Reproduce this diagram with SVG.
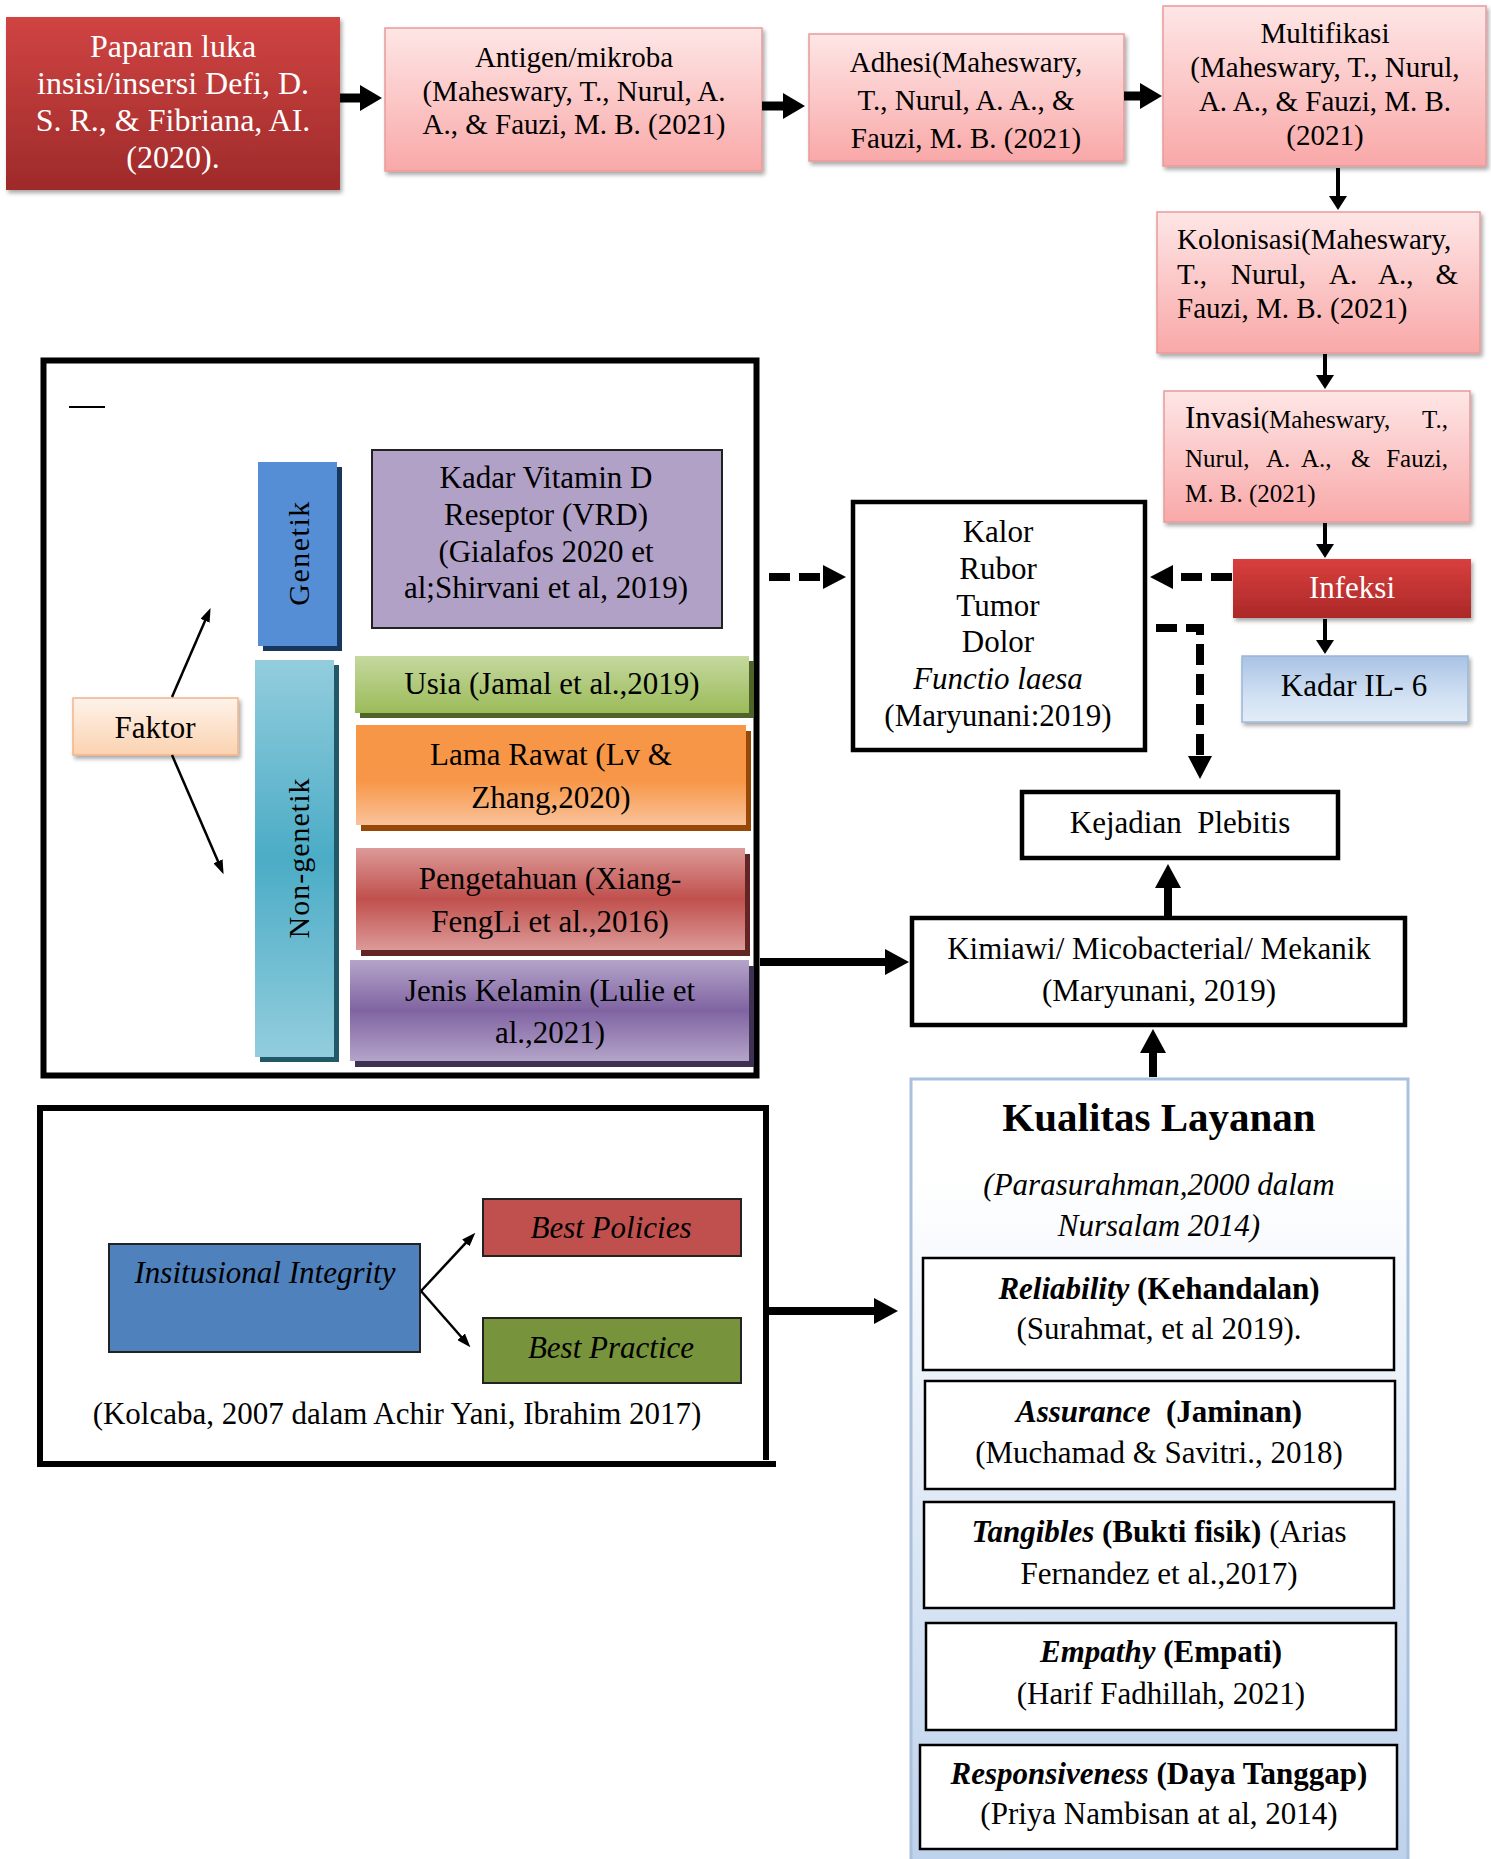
<svg xmlns="http://www.w3.org/2000/svg" width="1491" height="1859" viewBox="0 0 1491 1859">
<style>
.t{font-family:"Liberation Serif","Times New Roman",serif;fill:#000;}
.c{text-anchor:middle;}
.e{text-anchor:end;}
.w{fill:#fff;}
.i{font-style:italic;}
.b{font-weight:bold;}
.pink{fill:url(#gPink);stroke:#e79b9b;stroke-width:1.5;filter:url(#sh);}
.frame{fill:none;stroke:#000;stroke-width:6;}
.bx{fill:#fff;stroke:#000;stroke-width:4.5;}
.sub{fill:#fff;stroke:#000;stroke-width:2.5;}
</style>
<defs>
<linearGradient id="gRed" x1="0" y1="0" x2="0" y2="1"><stop offset="0" stop-color="#d04442"/><stop offset="1" stop-color="#9e2a2a"/></linearGradient>
<linearGradient id="gPink" x1="0" y1="0" x2="0" y2="1"><stop offset="0" stop-color="#fee6e6"/><stop offset="1" stop-color="#f9a8a8"/></linearGradient>
<linearGradient id="gInf" x1="0" y1="0" x2="0" y2="1"><stop offset="0" stop-color="#d83f3d"/><stop offset="1" stop-color="#ac2828"/></linearGradient>
<linearGradient id="gIL" x1="0" y1="0" x2="0" y2="1"><stop offset="0" stop-color="#a9c3e4"/><stop offset="0.6" stop-color="#d0e0f3"/><stop offset="1" stop-color="#e3edf8"/></linearGradient>
<linearGradient id="gFak" x1="0" y1="0" x2="0" y2="1"><stop offset="0" stop-color="#fef3ea"/><stop offset="1" stop-color="#fbd2b0"/></linearGradient>
<linearGradient id="gNon" x1="0" y1="0" x2="0" y2="1"><stop offset="0" stop-color="#93cddd"/><stop offset="0.5" stop-color="#4bacc6"/><stop offset="1" stop-color="#93cddd"/></linearGradient>
<linearGradient id="gUsia" x1="0" y1="0" x2="0" y2="1"><stop offset="0" stop-color="#c5d89f"/><stop offset="1" stop-color="#9bbb59"/></linearGradient>
<linearGradient id="gLama" x1="0" y1="0" x2="0" y2="1"><stop offset="0" stop-color="#f79646"/><stop offset="0.55" stop-color="#f79646"/><stop offset="1" stop-color="#fac29a"/></linearGradient>
<linearGradient id="gPeng" x1="0" y1="0" x2="0" y2="1"><stop offset="0" stop-color="#dc9a98"/><stop offset="0.5" stop-color="#c0504d"/><stop offset="1" stop-color="#dc9a98"/></linearGradient>
<linearGradient id="gJen" x1="0" y1="0" x2="0" y2="1"><stop offset="0" stop-color="#b4a4c9"/><stop offset="0.5" stop-color="#8064a2"/><stop offset="1" stop-color="#b4a4c9"/></linearGradient>
<linearGradient id="gKual" x1="0" y1="0" x2="0" y2="1"><stop offset="0" stop-color="#ffffff"/><stop offset="0.12" stop-color="#ffffff"/><stop offset="1" stop-color="#bcd1ec"/></linearGradient>
<filter id="sh" x="-10%" y="-10%" width="130%" height="140%"><feDropShadow dx="2" dy="3" stdDeviation="2" flood-color="#000" flood-opacity="0.35"/></filter>
<marker id="mBig" markerUnits="userSpaceOnUse" markerWidth="22" markerHeight="26" refX="1" refY="13" orient="auto"><path d="M0,0 L22,13 L0,26 z" fill="#000"/></marker>
<marker id="mMed" markerUnits="userSpaceOnUse" markerWidth="14" markerHeight="18" refX="1" refY="9" orient="auto"><path d="M0,0 L14,9 L0,18 z" fill="#000"/></marker>
<marker id="mThick" markerUnits="userSpaceOnUse" markerWidth="24" markerHeight="26" refX="1" refY="13" orient="auto"><path d="M0,0 L24,13 L0,26 z" fill="#000"/></marker>
<marker id="mDash" markerUnits="userSpaceOnUse" markerWidth="23" markerHeight="24" refX="1" refY="12" orient="auto"><path d="M0,0 L23,12 L0,24 z" fill="#000"/></marker>
<marker id="mThin" markerUnits="userSpaceOnUse" markerWidth="14" markerHeight="10" refX="1" refY="5" orient="auto"><path d="M0,0 L14,5 L0,10 z" fill="#000"/></marker>
</defs>
<rect width="1491" height="1859" fill="#fff"/>

<!-- Frames -->
<g id="frame-faktor">
<rect x="43.5" y="360.5" width="713" height="715" class="frame"/>
<line x1="69" y1="407" x2="105" y2="407" stroke="#000" stroke-width="2"/>
</g>
<g id="frame-institusi">
<path d="M40,1464 V1108 H766 V1460" class="frame"/>
<line x1="37" y1="1464" x2="776" y2="1464" stroke="#000" stroke-width="6"/>
</g>

<!-- Top row -->
<g id="n-paparan">
<rect x="6" y="17" width="334" height="173" fill="url(#gRed)" filter="url(#sh)"/>
<text class="t c w" font-size="32"><tspan x="173" y="57">Paparan luka</tspan><tspan x="173" y="94">insisi/insersi Defi, D.</tspan><tspan x="173" y="131">S. R., &amp; Fibriana, AI.</tspan><tspan x="173" y="168">(2020).</tspan></text>
</g>
<g id="n-antigen">
<rect x="385" y="28" width="377" height="143" class="pink"/>
<text class="t c" font-size="29"><tspan x="574" y="67">Antigen/mikroba</tspan><tspan x="574" y="101">(Maheswary, T., Nurul, A.</tspan><tspan x="574" y="134">A., &amp; Fauzi, M. B. (2021)</tspan></text>
</g>
<g id="n-adhesi">
<rect x="809" y="34" width="315" height="127" class="pink"/>
<text class="t c" font-size="29"><tspan x="966" y="72">Adhesi(Maheswary,</tspan><tspan x="966" y="110">T., Nurul, A. A., &amp;</tspan><tspan x="966" y="148">Fauzi, M. B. (2021)</tspan></text>
</g>
<g id="n-multifikasi">
<rect x="1163" y="6" width="323" height="160" class="pink"/>
<text class="t c" font-size="29"><tspan x="1325" y="43">Multifikasi</tspan><tspan x="1325" y="77">(Maheswary, T., Nurul,</tspan><tspan x="1325" y="111">A. A., &amp; Fauzi, M. B.</tspan><tspan x="1325" y="145">(2021)</tspan></text>
</g>
<g id="n-kolonisasi">
<rect x="1157" y="212" width="323" height="141" class="pink"/>
<text class="t" font-size="29" x="1177" y="249">Kolonisasi(Maheswary,</text>
<text class="t" font-size="29" y="284"><tspan x="1177">T.,</tspan><tspan x="1231">Nurul,</tspan><tspan x="1329">A.</tspan><tspan x="1378">A.,</tspan></text>
<text class="t e" font-size="29" x="1458" y="284">&amp;</text>
<text class="t" font-size="29" x="1177" y="318">Fauzi, M. B. (2021)</text>
</g>
<g id="n-invasi">
<rect x="1164" y="391" width="306" height="131" class="pink"/>
<text class="t" x="1185" y="428"><tspan font-size="31">Invasi</tspan><tspan font-size="25">(Maheswary,</tspan></text>
<text class="t e" font-size="25" x="1448" y="428">T.,</text>
<text class="t" font-size="25" y="467"><tspan x="1185">Nurul,</tspan><tspan x="1266">A.</tspan><tspan x="1301">A.,</tspan><tspan x="1351">&amp;</tspan></text>
<text class="t e" font-size="25" x="1448" y="467">Fauzi,</text>
<text class="t" font-size="25" x="1185" y="502">M. B. (2021)</text>
</g>
<g id="n-infeksi">
<rect x="1233" y="559" width="238" height="59" fill="url(#gInf)" filter="url(#sh)"/>
<text class="t c w" font-size="31" x="1352" y="598">Infeksi</text>
</g>
<g id="n-il6">
<rect x="1242" y="656" width="226" height="66" fill="url(#gIL)" stroke="#9cb6d8" stroke-width="1.5" filter="url(#sh)"/>
<text class="t c" font-size="31" x="1354" y="696">Kadar IL- 6</text>
</g>
<g id="n-kalor">
<rect x="853" y="502" width="292" height="248" class="bx"/>
<text class="t c" font-size="31"><tspan x="998" y="542">Kalor</tspan><tspan x="998" y="579">Rubor</tspan><tspan x="998" y="616">Tumor</tspan><tspan x="998" y="652">Dolor</tspan><tspan x="998" y="689" font-style="italic">Functio laesa</tspan><tspan x="998" y="726">(Maryunani:2019)</tspan></text>
</g>
<g id="n-kejadian">
<rect x="1022" y="792" width="316" height="66" class="bx"/>
<text class="t c" font-size="31" x="1180" y="833">Kejadian&#160; Plebitis</text>
</g>
<g id="n-kimiawi">
<rect x="912" y="918" width="493" height="107" class="bx"/>
<text class="t c" font-size="31"><tspan x="1159" y="959">Kimiawi/ Micobacterial/ Mekanik</tspan><tspan x="1159" y="1001">(Maryunani, 2019)</tspan></text>
</g>

<!-- Faktor section -->
<g id="n-faktor">
<rect x="73" y="698" width="165" height="57" fill="url(#gFak)" stroke="#f2b48a" stroke-width="1.5" filter="url(#sh)"/>
<text class="t c" font-size="31" x="155" y="738">Faktor</text>
</g>
<g id="n-genetik">
<rect x="263" y="467" width="79" height="184" fill="#17375e"/>
<rect x="258" y="462" width="79" height="184" fill="#558ed5"/>
<text class="t c" font-size="30" letter-spacing="1.5" transform="translate(309,553) rotate(-90)">Genetik</text>
</g>
<g id="n-vitamin">
<rect x="372" y="450" width="350" height="178" fill="#b2a1c7" stroke="#222" stroke-width="2"/>
<text class="t c" font-size="31"><tspan x="546" y="488">Kadar Vitamin D</tspan><tspan x="546" y="525">Reseptor (VRD)</tspan><tspan x="546" y="562">(Gialafos 2020 et</tspan><tspan x="546" y="598">al;Shirvani et al, 2019)</tspan></text>
</g>
<g id="n-nongenetik">
<rect x="260" y="665" width="79" height="397" fill="#215968"/>
<rect x="255" y="660" width="79" height="397" fill="url(#gNon)"/>
<text class="t c" font-size="30" letter-spacing="1" transform="translate(309,858) rotate(-90)">Non-genetik</text>
</g>
<g id="n-usia">
<rect x="360" y="661" width="394" height="57" fill="#4f6228"/>
<rect x="355" y="656" width="394" height="57" fill="url(#gUsia)"/>
<text class="t c" font-size="31" x="552" y="694">Usia (Jamal et al.,2019)</text>
</g>
<g id="n-lama">
<rect x="361" y="731" width="390" height="100" fill="#974806"/>
<rect x="356" y="725" width="390" height="100" fill="url(#gLama)"/>
<text class="t c" font-size="31"><tspan x="551" y="765">Lama Rawat (Lv &amp;</tspan><tspan x="551" y="808">Zhang,2020)</tspan></text>
</g>
<g id="n-peng">
<rect x="361" y="854" width="389" height="102" fill="#632523"/>
<rect x="356" y="848" width="389" height="102" fill="url(#gPeng)"/>
<text class="t c" font-size="31"><tspan x="550" y="889">Pengetahuan (Xiang-</tspan><tspan x="550" y="932">FengLi et al.,2016)</tspan></text>
</g>
<g id="n-jenis">
<rect x="355" y="966" width="399" height="101" fill="#3f3151"/>
<rect x="350" y="960" width="399" height="101" fill="url(#gJen)"/>
<text class="t c" font-size="31"><tspan x="550" y="1001">Jenis Kelamin (Lulie et</tspan><tspan x="550" y="1043">al.,2021)</tspan></text>
</g>

<!-- Institusi section -->
<g id="n-insitusional">
<rect x="109" y="1244" width="311" height="108" fill="#4f81bd" stroke="#222" stroke-width="2"/>
<text class="t c i" font-size="31" x="265" y="1283" fill="#14142e">Insitusional Integrity</text>
</g>
<g id="n-policies">
<rect x="483" y="1199" width="258" height="57" fill="#c0504d" stroke="#222" stroke-width="2"/>
<text class="t c i" font-size="31" x="611" y="1238">Best Policies</text>
</g>
<g id="n-practice">
<rect x="483" y="1318" width="258" height="65" fill="#77933c" stroke="#222" stroke-width="2"/>
<text class="t c i" font-size="31" x="611" y="1358">Best Practice</text>
</g>
<g id="n-kolcaba">
<text class="t c" font-size="31" x="397" y="1424">(Kolcaba, 2007 dalam Achir Yani, Ibrahim 2017)</text>
</g>

<!-- Kualitas Layanan -->
<g id="n-kualitas">
<rect x="911" y="1079" width="497" height="800" fill="url(#gKual)" stroke="#a9c0de" stroke-width="3"/>
<text class="t c b" font-size="41" x="1159" y="1131">Kualitas Layanan</text>
<text class="t c i" font-size="31"><tspan x="1159" y="1195">(Parasurahman,2000 dalam</tspan><tspan x="1159" y="1236">Nursalam 2014)</tspan></text>
</g>
<g id="n-reliability">
<rect x="923" y="1258" width="471" height="112" class="sub"/>
<text class="t c" font-size="31" x="1159" y="1299"><tspan class="b i">Reliability</tspan><tspan class="b"> (Kehandalan)</tspan></text>
<text class="t c" font-size="31" x="1159" y="1339">(Surahmat, et al 2019).</text>
</g>
<g id="n-assurance">
<rect x="925" y="1381" width="470" height="108" class="sub"/>
<text class="t c" font-size="31" x="1159" y="1422"><tspan class="b i">Assurance</tspan><tspan class="b">&#160; (Jaminan)</tspan></text>
<text class="t c" font-size="31" x="1159" y="1463">(Muchamad &amp; Savitri., 2018)</text>
</g>
<g id="n-tangibles">
<rect x="924" y="1502" width="470" height="106" class="sub"/>
<text class="t c" font-size="31" x="1159" y="1542"><tspan class="b i">Tangibles</tspan><tspan class="b"> (Bukti fisik)</tspan><tspan> (Arias</tspan></text>
<text class="t c" font-size="31" x="1159" y="1584">Fernandez et al.,2017)</text>
</g>
<g id="n-empathy">
<rect x="926" y="1623" width="470" height="107" class="sub"/>
<text class="t c" font-size="31" x="1161" y="1662"><tspan class="b i">Empathy</tspan><tspan class="b"> (Empati)</tspan></text>
<text class="t c" font-size="31" x="1161" y="1704">(Harif Fadhillah, 2021)</text>
</g>
<g id="n-responsiveness">
<rect x="920" y="1745" width="477" height="104" class="sub"/>
<text class="t c" font-size="31" x="1159" y="1784"><tspan class="b i">Responsiveness</tspan><tspan class="b"> (Daya Tanggap)</tspan></text>
<text class="t c" font-size="31" x="1159" y="1824">(Priya Nambisan at al, 2014)</text>
</g>

<!-- Connectors -->
<g id="connectors" fill="none" stroke="#000">
<line x1="340" y1="98" x2="361" y2="98" stroke-width="9" marker-end="url(#mBig)"/>
<line x1="762" y1="106" x2="784" y2="106" stroke-width="9" marker-end="url(#mBig)"/>
<line x1="1124" y1="96" x2="1141" y2="96" stroke-width="9" marker-end="url(#mBig)"/>
<line x1="1338" y1="168" x2="1338" y2="197" stroke-width="4" marker-end="url(#mMed)"/>
<line x1="1325" y1="354" x2="1325" y2="376" stroke-width="4" marker-end="url(#mMed)"/>
<line x1="1325" y1="523" x2="1325" y2="545" stroke-width="4" marker-end="url(#mMed)"/>
<line x1="1325" y1="619" x2="1325" y2="641" stroke-width="4" marker-end="url(#mMed)"/>
<line x1="1232" y1="577" x2="1172" y2="577" stroke-width="8" stroke-dasharray="21 9" marker-end="url(#mDash)"/>
<line x1="769" y1="577" x2="824" y2="577" stroke-width="8" stroke-dasharray="21 9" marker-end="url(#mDash)"/>
<path d="M1156,628 H1200 V757" stroke-width="8" stroke-dasharray="21 9" marker-end="url(#mDash)"/>
<line x1="760" y1="962" x2="886" y2="962" stroke-width="8" marker-end="url(#mThick)"/>
<line x1="1168" y1="916" x2="1168" y2="887" stroke-width="8" marker-end="url(#mThick)"/>
<line x1="1153" y1="1077" x2="1153" y2="1052" stroke-width="8" marker-end="url(#mThick)"/>
<line x1="769" y1="1311" x2="875" y2="1311" stroke-width="8" marker-end="url(#mThick)"/>
<line x1="172" y1="697" x2="205.4" y2="619.9" stroke-width="2.5" marker-end="url(#mThin)"/>
<line x1="172" y1="755" x2="218.4" y2="862.2" stroke-width="2.5" marker-end="url(#mThin)"/>
<line x1="421" y1="1291" x2="466.5" y2="1242.2" stroke-width="2.5" marker-end="url(#mThin)"/>
<line x1="421" y1="1291" x2="461.8" y2="1337.5" stroke-width="2.5" marker-end="url(#mThin)"/>
</g>
</svg>
